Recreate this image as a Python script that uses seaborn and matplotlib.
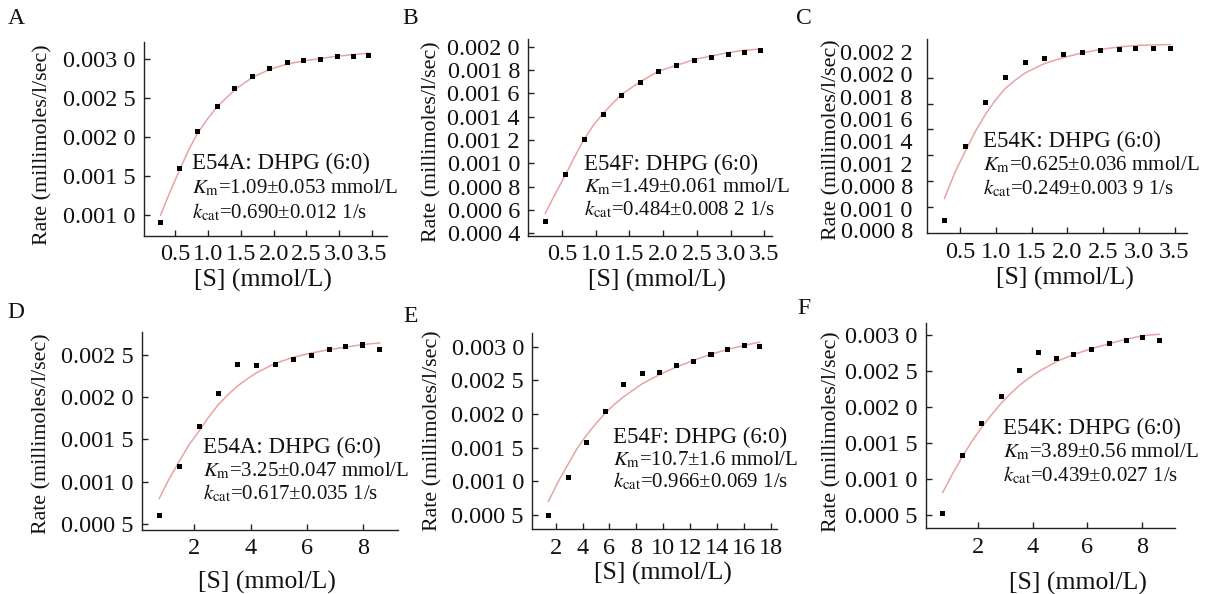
import numpy as np
import pandas as pd
import matplotlib
matplotlib.use("Agg")
import matplotlib.pyplot as plt
import seaborn as sns
from matplotlib.ticker import FixedLocator

sns.set_theme(style="ticks")
plt.rcParams['font.family'] = ['Liberation Serif', 'DejaVu Serif']
plt.rcParams['mathtext.fontset'] = 'stix'

W, H, DPI = 1206, 594, 100

# ---------------- data ----------------
# Panel A  E54A (0-3.5 mmol/L)
a_s = [0.28, 0.57, 0.85, 1.14, 1.41, 1.68, 1.94, 2.21, 2.46, 2.71, 2.97, 3.21, 3.45]
a_rate = [0.00091, 0.00160, 0.00207, 0.00240, 0.00262, 0.00278, 0.00288, 0.00296,
          0.00299, 0.00300, 0.00303, 0.00304, 0.00305]
a_fit_s = [0.28, 0.43, 0.57, 0.71, 0.85, 1.0, 1.14, 1.41, 1.68, 1.94, 2.21, 2.46, 2.71, 2.97, 3.21, 3.45]
a_fit = [0.00100, 0.00131, 0.00158, 0.00184, 0.00206, 0.00224, 0.00239, 0.00261, 0.00277,
         0.00287, 0.00294, 0.00298, 0.00301, 0.00304, 0.00306, 0.00308]

# Panel B  E54F (0-3.5 mmol/L)
b_s = [0.25, 0.55, 0.83, 1.11, 1.38, 1.66, 1.93, 2.20, 2.46, 2.71, 2.97, 3.21, 3.45]
b_rate = [0.00050, 0.000906, 0.001206, 0.001423, 0.001583, 0.001697, 0.00179, 0.00184,
          0.001886, 0.001911, 0.001937, 0.001951, 0.00197]
b_fit_s = [0.25, 0.40, 0.55, 0.69, 0.83, 0.97, 1.11, 1.38, 1.66, 1.93, 2.20, 2.46, 2.71, 2.97, 3.21, 3.45]
b_fit = [0.00057, 0.00074, 0.00090, 0.00106, 0.00121, 0.00133, 0.00143, 0.00159, 0.00170,
         0.00179, 0.00184, 0.00189, 0.00192, 0.00195, 0.00197, 0.00198]

# Panel C  E54K (0-3.5 mmol/L)
c_s = [0.28, 0.58, 0.86, 1.13, 1.41, 1.68, 1.95, 2.21, 2.46, 2.73, 2.96, 3.21, 3.45]
c_rate = [0.000895, 0.001471, 0.001808, 0.002004, 0.002118, 0.002146, 0.002182, 0.002198,
          0.002213, 0.002219, 0.002223, 0.002226, 0.002226]
c_fit_s = [0.28, 0.43, 0.58, 0.72, 0.86, 1.0, 1.13, 1.27, 1.41, 1.68, 1.95, 2.21, 2.46, 2.73, 2.96, 3.21, 3.45]
c_fit = [0.001064, 0.00127, 0.001438, 0.00159, 0.001722, 0.00183, 0.001916, 0.00198,
         0.002037, 0.00211, 0.002157, 0.002192, 0.002219, 0.002239, 0.00225, 0.002254, 0.002257]

# Panel D  E54A (0-9 mmol/L)
d_s = [0.75, 1.46, 2.17, 2.85, 3.53, 4.22, 4.88, 5.52, 6.15, 6.78, 7.38, 7.98, 8.59]
d_rate = [0.000598, 0.001177, 0.00165, 0.002047, 0.002386, 0.00237, 0.002386, 0.002441,
          0.00249, 0.002556, 0.002595, 0.002615, 0.002556]
d_fit_s = [0.75, 1.1, 1.46, 1.8, 2.17, 2.5, 2.85, 3.2, 3.53, 3.9, 4.22, 4.88, 5.52, 6.15,
           6.78, 7.38, 7.98, 8.59]
d_fit = [0.00080, 0.00103, 0.00124, 0.00143, 0.00160, 0.00176, 0.00191, 0.00203, 0.00213,
         0.00222, 0.00229, 0.00240, 0.00247, 0.00252, 0.00256, 0.00259, 0.00262, 0.00264]

# Panel E  E54F (0-18 mmol/L)
e_s = [1.45, 2.94, 4.31, 5.72, 7.08, 8.44, 9.76, 11.0, 12.29, 13.56, 14.80, 16.03, 17.20]
e_rate = [0.00050, 0.001064, 0.001574, 0.002039, 0.002436, 0.00261, 0.00262, 0.00272,
          0.00278, 0.00288, 0.00296, 0.00302, 0.00301]
e_fit_s = [1.45, 2.2, 2.94, 3.6, 4.31, 5.0, 5.72, 6.4, 7.08, 8.44, 9.76, 11.0, 12.29,
           13.56, 14.80, 16.03, 17.20]
e_fit = [0.00070, 0.00100, 0.00126, 0.00149, 0.00169, 0.00186, 0.00202, 0.00215, 0.00226,
         0.00245, 0.00259, 0.00270, 0.00280, 0.00289, 0.00296, 0.00302, 0.00307]

# Panel F  E54K (0-9 mmol/L)
f_s = [0.72, 1.44, 2.15, 2.85, 3.52, 4.21, 4.87, 5.50, 6.16, 6.79, 7.41, 8.02, 8.62]
f_rate = [0.000524, 0.001328, 0.001768, 0.002147, 0.0025, 0.002754, 0.00267, 0.00273,
          0.0028, 0.00288, 0.00293, 0.00296, 0.00293]
f_fit_s = [0.72, 1.08, 1.44, 1.8, 2.15, 2.5, 2.85, 3.18, 3.52, 3.86, 4.21, 4.87, 5.50,
           6.16, 6.79, 7.41, 8.02, 8.62]
f_fit = [0.00081, 0.00107, 0.00131, 0.00153, 0.00172, 0.00189, 0.00205, 0.00218, 0.00230,
         0.00240, 0.00249, 0.00263, 0.00273, 0.00281, 0.00288, 0.00294, 0.00299, 0.00301]

panel_letters = ['A', 'B', 'C', 'D', 'E', 'F']
enzyme_titles = ['E54A: DHPG (6:0)', 'E54F: DHPG (6:0)', 'E54K: DHPG (6:0)',
                 'E54A: DHPG (6:0)', 'E54F: DHPG (6:0)', 'E54K: DHPG (6:0)']
km_texts = ['1.09±0.053 mmol/L', '1.49±0.061 mmol/L', '0.625±0.036 mmol/L',
            '3.25±0.047 mmol/L', '10.7±1.6 mmol/L', '3.89±0.56 mmol/L']
kcat_texts = ['0.690±0.012 1/s', '0.484±0.008 2 1/s', '0.249±0.003 9 1/s',
              '0.617±0.035 1/s', '0.966±0.069 1/s', '0.439±0.027 1/s']

# tick values and labels
x_ticks_small = [0.5, 1.0, 1.5, 2.0, 2.5, 3.0, 3.5]
x_labels_small = ['0.5', '1.0', '1.5', '2.0', '2.5', '3.0', '3.5']
x_ticks_9 = [2, 4, 6, 8]
x_labels_9 = ['2', '4', '6', '8']
x_ticks_18 = [2, 4, 6, 8, 10, 12, 14, 16, 18]
x_labels_18 = ['2', '4', '6', '8', '10', '12', '14', '16', '18']

a_yticks = [0.0010, 0.0015, 0.0020, 0.0025, 0.0030]
a_ylabels = ['0.001 0', '0.001 5', '0.002 0', '0.002 5', '0.003 0']
b_yticks = [0.0004, 0.0006, 0.0008, 0.0010, 0.0012, 0.0014, 0.0016, 0.0018, 0.0020]
b_ylabels = ['0.000 4', '0.000 6', '0.000 8', '0.001 0', '0.001 2', '0.001 4',
             '0.001 6', '0.001 8', '0.002 0']
# panel C: labels as printed (squeezed, not aligned with the tick marks)
c_label_pos = [0.00082, 0.000987, 0.001162, 0.001335, 0.00151, 0.001684,
               0.001851, 0.002027, 0.0022]
c_ylabels = ['0.000 8', '0.001 0', '0.000 8', '0.001 2', '0.001 4', '0.001 6',
             '0.001 8', '0.002 0', '0.002 2']
c_tick_marks = [0.0010, 0.0012, 0.0014, 0.0016, 0.0018, 0.0020, 0.0022]
d_yticks = [0.0005, 0.0010, 0.0015, 0.0020, 0.0025]
d_ylabels = ['0.000 5', '0.001 0', '0.001 5', '0.002 0', '0.002 5']
ef_yticks = [0.0005, 0.0010, 0.0015, 0.0020, 0.0025, 0.0030]
ef_ylabels = ['0.000 5', '0.001 0', '0.001 5', '0.002 0', '0.002 5', '0.003 0']

# ---------------- layout (pixel geometry) ----------------
def frac_rect(l, t, r, b):
    return [l / W, 1 - b / H, (r - l) / W, (b - t) / H]

panels = [
    dict(s=a_s, rate=a_rate, fs=a_fit_s, fit=a_fit, rect=(144, 42, 386.7, 236),
         xlim=(0.03, 3.72), ylim=(0.000735, 0.003222),
         xt=x_ticks_small, xl=x_labels_small, yt=a_yticks, yl=a_ylabels,
         ylab=(43, 145), xlab=(263, 280), letter=(16, 18), txt=(191.7, 162.3, 24.5)),
    dict(s=b_s, rate=b_rate, fs=b_fit_s, fit=b_fit, rect=(528.3, 39, 771.7, 236),
         xlim=(0.0, 3.61), ylim=(0.000378, 0.002066),
         xt=x_ticks_small, xl=x_labels_small, yt=b_yticks, yl=b_ylabels,
         ylab=(431.7, 141.7), xlab=(656.7, 280), letter=(410, 18), txt=(584, 163.3, 22.5)),
    dict(s=c_s, rate=c_rate, fs=c_fit_s, fit=c_fit, rect=(926.7, 39, 1186.7, 233.3),
         xlim=(0.033, 3.67), ylim=(0.000795, 0.0023),
         xt=x_ticks_small, xl=x_labels_small, yt=c_label_pos, yl=c_ylabels,
         minor=c_tick_marks,
         ylab=(831.7, 140), xlab=(1065, 278.3), letter=(804, 18), txt=(983.3, 140, 23.6)),
    dict(s=d_s, rate=d_rate, fs=d_fit_s, fit=d_fit, rect=(141.7, 332.3, 398.3, 529.7),
         xlim=(0.13, 9.24), ylim=(0.000433, 0.002765),
         xt=x_ticks_9, xl=x_labels_9, yt=d_yticks, yl=d_ylabels,
         ylab=(41.7, 434), xlab=(266.7, 582.3), letter=(16, 312), txt=(203.3, 446.3, 23)),
    dict(s=e_s, rate=e_rate, fs=e_fit_s, fit=e_fit, rect=(532.3, 333.3, 776.7, 529.3),
         xlim=(0.26, 18.45), ylim=(0.000288, 0.0032),
         xt=x_ticks_18, xl=x_labels_18, yt=ef_yticks, yl=ef_ylabels,
         ylab=(433.3, 430.7), xlab=(663.3, 573.3), letter=(411, 316), txt=(613.3, 435.7, 22.5)),
    dict(s=f_s, rate=f_rate, fs=f_fit_s, fit=f_fit, rect=(925.7, 323.3, 1175, 528.3),
         xlim=(0.104, 9.19), ylim=(0.000315, 0.003162),
         xt=x_ticks_9, xl=x_labels_9, yt=ef_yticks, yl=ef_ylabels,
         ylab=(831.7, 431.5), xlab=(1078.3, 583.3), letter=(804, 308), txt=(1003.3, 427.3, 23.3)),
]

fig = plt.figure(figsize=(W / DPI, H / DPI), dpi=DPI)
fig.patch.set_facecolor('white')

TICK_FS = 17.5
XLAB_FS = 18.5
YLAB_FS = 15.8
ANN1_FS = 16.5
ANN2_FS = 15.0
LET_FS = 17
SPINE_C = '#222222'
FIT_C = '#eaa3a3'

for i, p in enumerate(panels):
    ax = fig.add_axes(frac_rect(*p['rect']))
    ax.set_facecolor('white')
    pts = pd.DataFrame({'S': p['s'], 'rate': p['rate']})
    fit = pd.DataFrame({'S': p['fs'], 'fit': p['fit']})
    sns.lineplot(data=fit, x='S', y='fit', color=FIT_C, linewidth=1.1, ax=ax,
                 estimator=None, sort=True, zorder=2)
    sns.scatterplot(data=pts, x='S', y='rate', marker='s', s=13, color='black',
                    edgecolor='none', linewidth=0, ax=ax, zorder=3)
    ax.set_xlim(*p['xlim'])
    ax.set_ylim(*p['ylim'])
    sns.despine(ax=ax)
    for side in ('left', 'bottom'):
        ax.spines[side].set_color(SPINE_C)
        ax.spines[side].set_linewidth(1.0)
    ax.set_xticks(p['xt'])
    ax.set_xticklabels(p['xl'])
    ax.set_yticks(p['yt'])
    ax.set_yticklabels(p['yl'])
    ax.tick_params(axis='both', which='major', direction='in', length=4, width=1,
                   color=SPINE_C, labelsize=TICK_FS, pad=6, labelcolor='#111111')
    if 'minor' in p:
        ax.tick_params(axis='y', which='major', length=0, pad=10)
        ax.yaxis.set_minor_locator(FixedLocator(p['minor']))
        ax.tick_params(axis='y', which='minor', direction='in', length=4, width=1,
                       color=SPINE_C)
    ax.set_xlabel('[S] (mmol/L)', fontsize=XLAB_FS, color='#111111')
    ax.set_ylabel('Rate (millimoles/l/sec)', fontsize=YLAB_FS, color='#111111')
    ax.xaxis.label.set_va('center')
    ax.yaxis.label.set_va('center')
    ax.xaxis.set_label_coords(p['xlab'][0] / W, 1 - p['xlab'][1] / H, transform=fig.transFigure)
    ax.yaxis.set_label_coords(p['ylab'][0] / W, 1 - p['ylab'][1] / H, transform=fig.transFigure)

    # panel letter
    fig.text(p['letter'][0] / W, 1 - p['letter'][1] / H, panel_letters[i],
             fontsize=LET_FS, ha='center', va='center', color='#111111')

    # annotation
    tx, ty, dy = p['txt']
    lines = [enzyme_titles[i],
             r'$K_{\mathrm{m}}$=' + km_texts[i],
             r'$k_{\mathrm{cat}}$=' + kcat_texts[i]]
    sizes = [ANN1_FS, ANN2_FS, ANN2_FS]
    for j, line in enumerate(lines):
        fig.text(tx / W, 1 - (ty + j * dy + 7) / H, line, fontsize=sizes[j],
                 ha='left', va='baseline', color='#111111')

fig.savefig('out.png', dpi=DPI, facecolor='white')
